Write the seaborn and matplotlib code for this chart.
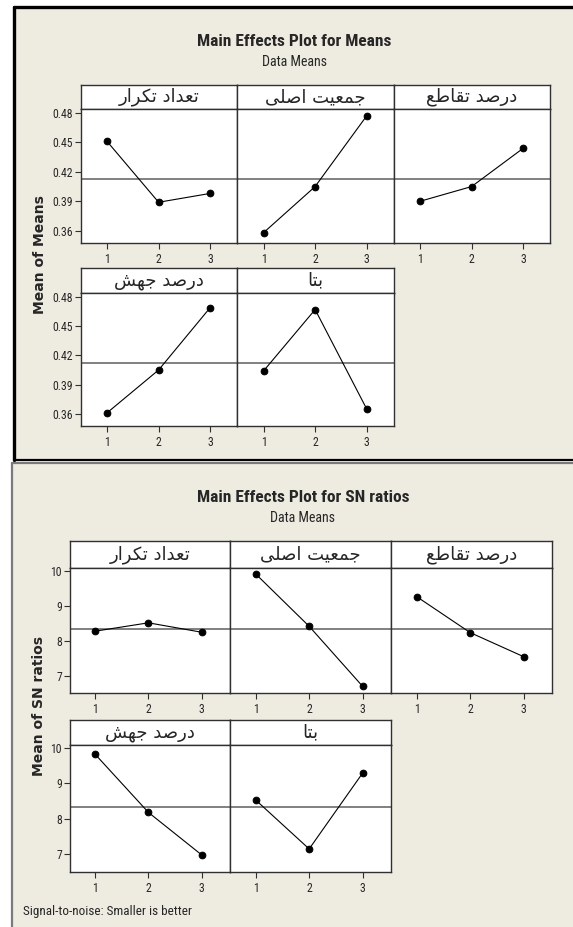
import numpy as np
import pandas as pd
import matplotlib
matplotlib.use("Agg")
import matplotlib.pyplot as plt
import seaborn as sns
from matplotlib import font_manager
from matplotlib.patches import Rectangle
from matplotlib.lines import Line2D

# ---------------- data ----------------
levels = [1, 2, 3]
factor_names = ["تعداد تکرار", "جمعیت اصلی", "درصد تقاطع", "درصد جهش", "بتا"]

means_tedad_tekrar = [0.451, 0.389, 0.398]
means_jamiat_asli = [0.358, 0.405, 0.477]
means_darsad_taghato = [0.390, 0.405, 0.444]
means_darsad_jahesh = [0.361, 0.405, 0.469]
means_beta = [0.404, 0.467, 0.365]

sn_tedad_tekrar = [8.27, 8.51, 8.24]
sn_jamiat_asli = [9.91, 8.41, 6.69]
sn_darsad_taghato = [9.26, 8.23, 7.54]
sn_darsad_jahesh = [9.82, 8.18, 6.98]
sn_beta = [8.53, 7.15, 9.29]

means_yticks = [0.36, 0.39, 0.42, 0.45, 0.48]
means_ytick_labels = ["0.36", "0.39", "0.42", "0.45", "0.48"]
sn_yticks = [7, 8, 9, 10]
sn_ytick_labels = ["7", "8", "9", "10"]

# ---------------- fonts ----------------
sns.set_style("white")
available = {f.name for f in font_manager.fontManager.ttflist}
narrow = None
for cand in ["Liberation Sans Narrow", "Roboto Condensed", "Open Sans Condensed",
             "DejaVu Sans Condensed", "Liberation Sans"]:
    if cand in available:
        narrow = cand
        break
if narrow is None:
    narrow = "DejaVu Sans"
plt.rcParams["font.family"] = [narrow, "DejaVu Sans"]
arabic_font = ["DejaVu Sans"]

# ---------------- simple Persian shaping ----------------
FORMS = {
    "ا": ("\uFE8D", "\uFE8E", None, None),
    "ب": ("\uFE8F", "\uFE90", "\uFE91", "\uFE92"),
    "ت": ("\uFE95", "\uFE96", "\uFE97", "\uFE98"),
    "ج": ("\uFE9D", "\uFE9E", "\uFE9F", "\uFEA0"),
    "د": ("\uFEA9", "\uFEAA", None, None),
    "ر": ("\uFEAD", "\uFEAE", None, None),
    "ش": ("\uFEB5", "\uFEB6", "\uFEB7", "\uFEB8"),
    "ص": ("\uFEB9", "\uFEBA", "\uFEBB", "\uFEBC"),
    "ط": ("\uFEC1", "\uFEC2", "\uFEC3", "\uFEC4"),
    "ع": ("\uFEC9", "\uFECA", "\uFECB", "\uFECC"),
    "ق": ("\uFED5", "\uFED6", "\uFED7", "\uFED8"),
    "ل": ("\uFEDD", "\uFEDE", "\uFEDF", "\uFEE0"),
    "م": ("\uFEE1", "\uFEE2", "\uFEE3", "\uFEE4"),
    "ه": ("\uFEE9", "\uFEEA", "\uFEEB", "\uFEEC"),
    "ک": ("\uFB8E", "\uFB8F", "\uFB90", "\uFB91"),
    "ی": ("\uFBFC", "\uFBFD", "\uFBFE", "\uFBFF"),
}


def shape(text):
    chars = list(text)
    out = []
    for i, c in enumerate(chars):
        if c not in FORMS:
            out.append(c)
            continue
        iso, fin, ini, med = FORMS[c]
        prev = chars[i - 1] if i > 0 else None
        nxt = chars[i + 1] if i + 1 < len(chars) else None
        jp = prev in FORMS and FORMS[prev][2] is not None
        jn = nxt in FORMS and ini is not None
        if jp and jn:
            f = med
        elif jp:
            f = fin
        elif jn:
            f = ini
        else:
            f = iso
        out.append(f)
    return "".join(reversed(out))


# ---------------- figure ----------------
W, H = 573, 927
fig = plt.figure(figsize=(W / 100, H / 100), dpi=100)
fig.patch.set_facecolor("white")
BG = "#EEEBE1"


def R(x0, y0, x1, y1):
    return [x0 / W, 1 - y1 / H, (x1 - x0) / W, (y1 - y0) / H]


def px(x, y):
    return x / W, 1 - y / H


# background frames (drawn beneath the axes)
fig.patches.append(Rectangle(px(13, 460), (573 - 13) / W, (460 - 7) / H,
                             transform=fig.transFigure, facecolor=BG, edgecolor="none", zorder=-3))
fig.patches.append(Rectangle(px(12, 927), (573 - 12) / W, (927 - 463) / H,
                             transform=fig.transFigure, facecolor=BG, edgecolor="none", zorder=-3))
for (xa, ya, xb, yb, c, lw) in [
    (13.5, 7, 573, 7, "black", 2.4),
    (13.5, 7, 13.5, 460, "black", 2.4),
    (13.5, 460, 573, 460, "black", 1.6),
    (12, 463, 573, 463, "#7a7a7a", 1.6),
    (12, 463, 12, 927, "#7a7a7a", 1.6),
]:
    x0, y0 = px(xa, ya)
    x1, y1 = px(xb, yb)
    fig.lines.append(Line2D([x0, x1], [y0, y1], transform=fig.transFigure, color=c, lw=lw, zorder=-2))

EDGE = "#303030"


def panel(rect_strip, rect_panel, vals, label, ylim, xlim, yticks, yticklabels, show_y, mean):
    sax = fig.add_axes(rect_strip)
    sax.set_facecolor("white")
    sax.set_xticks([])
    sax.set_yticks([])
    for s in sax.spines.values():
        s.set_color(EDGE)
        s.set_linewidth(1.0)
    sax.text(0.5, 0.5, shape(label), ha="center", va="center", fontsize=13,
             family=arabic_font, transform=sax.transAxes)

    ax = fig.add_axes(rect_panel)
    ax.set_facecolor("white")
    ax.axhline(mean, color="#808080", lw=1.4, zorder=1)
    df = pd.DataFrame({"level": levels, "value": vals})
    sns.lineplot(data=df, x="level", y="value", ax=ax, color="black", lw=0.8,
                 marker="o", markersize=4.8, markeredgecolor="black", zorder=3)
    ax.set_xlim(*xlim)
    ax.set_ylim(*ylim)
    ax.set_xticks(levels)
    ax.set_xticklabels([str(v) for v in levels])
    ax.set_xlabel("")
    ax.set_ylabel("")
    ax.tick_params(axis="x", direction="out", length=4, width=0.8, color=EDGE,
                   labelsize=8.5, pad=3, bottom=True)
    ax.set_yticks(yticks)
    if show_y:
        ax.set_yticklabels(yticklabels)
        ax.tick_params(axis="y", direction="out", length=4, width=0.8, color=EDGE,
                       labelsize=8.5, pad=1.5, left=True)
    else:
        ax.tick_params(axis="y", left=False, labelleft=False)
    for s in ax.spines.values():
        s.set_color(EDGE)
        s.set_linewidth(1.0)
    ax.grid(False)
    return ax


# ---------------- Means chart ----------------
means_all = [means_tedad_tekrar, means_jamiat_asli, means_darsad_taghato,
             means_darsad_jahesh, means_beta]
grand_means = float(np.mean(np.concatenate(means_all)))
m_xs = [(80.5, 237), (237, 393.5), (393.5, 550)]
m_rows = [(85, 109, 243), (268, 293, 426)]
m_ylim = (0.3475, 0.484)
m_xlim = (0.485, 3.52)
for i, vals in enumerate(means_all):
    r, c = divmod(i, 3)
    x0, x1 = m_xs[c]
    st, sb, pb = m_rows[r]
    panel(R(x0, st, x1, sb), R(x0, sb, x1, pb), vals, factor_names[i],
          m_ylim, m_xlim, means_yticks, means_ytick_labels, c == 0, grand_means)

fig.text(*px(294, 42), "Main Effects Plot for Means", ha="center", va="center",
         fontsize=12.5, fontweight="bold")
fig.text(*px(294, 62), "Data Means", ha="center", va="center", fontsize=10)
fig.text(*px(40, 255), "Mean of Means", ha="center", va="center", rotation=90,
         fontsize=10, fontweight="bold", family=["DejaVu Sans"])

# ---------------- SN chart ----------------
sn_all = [sn_tedad_tekrar, sn_jamiat_asli, sn_darsad_taghato, sn_darsad_jahesh, sn_beta]
grand_sn = float(np.mean(np.concatenate(sn_all)))
s_xs = [(69.5, 230), (230, 391), (391, 552)]
s_rows = [(541, 568, 693), (720, 745, 872)]
s_ylim = (6.5, 10.08)
s_xlim = (0.52, 3.53)
for i, vals in enumerate(sn_all):
    r, c = divmod(i, 3)
    x0, x1 = s_xs[c]
    st, sb, pb = s_rows[r]
    panel(R(x0, st, x1, sb), R(x0, sb, x1, pb), vals, factor_names[i],
          s_ylim, s_xlim, sn_yticks, sn_ytick_labels, c == 0, grand_sn)

fig.text(*px(303, 497), "Main Effects Plot for SN ratios", ha="center", va="center",
         fontsize=12.5, fontweight="bold")
fig.text(*px(303, 518), "Data Means", ha="center", va="center", fontsize=10)
fig.text(*px(39, 706), "Mean of SN ratios", ha="center", va="center", rotation=90,
         fontsize=10, fontweight="bold", family=["DejaVu Sans"])
fig.text(*px(23, 912), "Signal-to-noise: Smaller is better", ha="left", va="center",
         fontsize=9.5)

fig.savefig("out.png", dpi=100, facecolor="white")
